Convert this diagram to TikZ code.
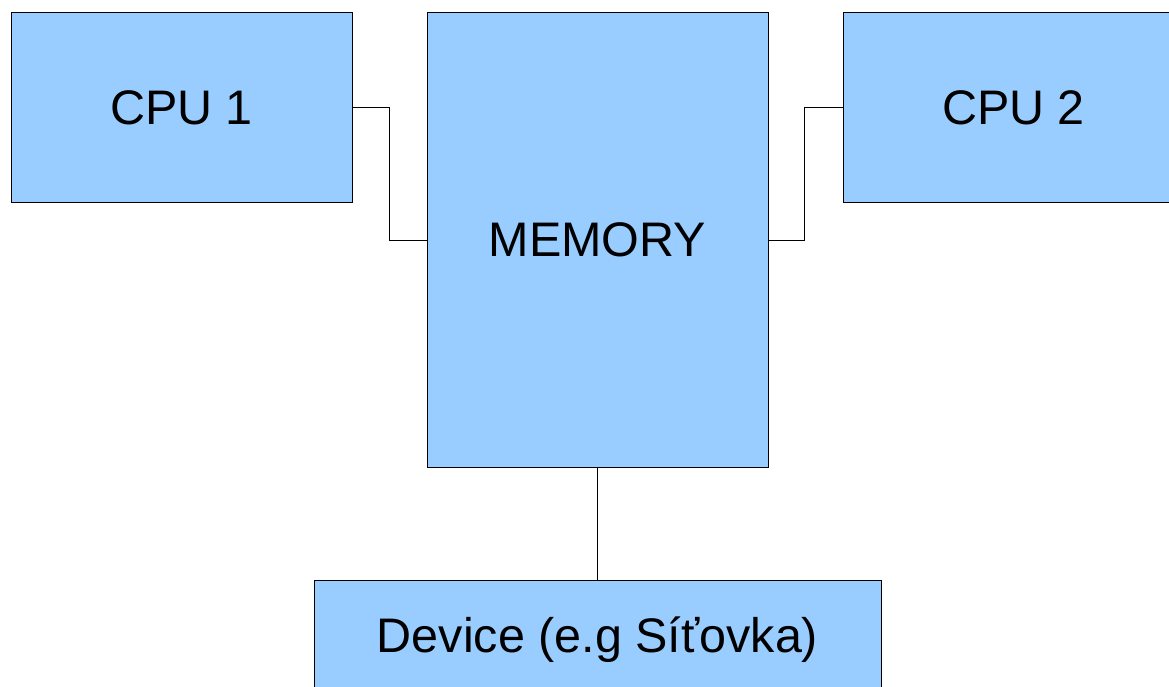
\documentclass[tikz,border=0pt]{standalone}
\usepackage{fontspec}
\setmainfont{Liberation Sans}
\definecolor{boxblue}{HTML}{99CCFF}
\begin{document}
\begin{tikzpicture}[x=1pt,y=-1pt,
  blk/.style={draw=black,line width=1pt,fill=boxblue,inner sep=0pt,
    font=\fontsize{48.5}{56}\selectfont,text=black},
  wire/.style={draw=black,line width=1pt}]
\useasboundingbox (0,0) rectangle (1169,687);
\clip (0,0) rectangle (1169,687);
\node[blk,minimum width=341pt,minimum height=189pt] (cpu1) at (181.5,107.5) {CPU 1};
\node[blk,minimum width=341pt,minimum height=454pt] (mem) at (597.5,240) {MEMORY};
\node[blk,minimum width=341pt,minimum height=189pt] (cpu2) at (1013.5,107.5) {CPU 2};
\node[blk,minimum width=567pt,minimum height=120pt] (dev) at (597.5,640) {Device (e.g Síťovka)};
\draw[wire] (cpu1.east) -- ++(37,0) |- (mem.west);
\draw[wire] (cpu2.west) -- ++(-38,0) |- (mem.east);
\draw[wire] (mem.south) -- (dev.north);
\end{tikzpicture}
\end{document}
